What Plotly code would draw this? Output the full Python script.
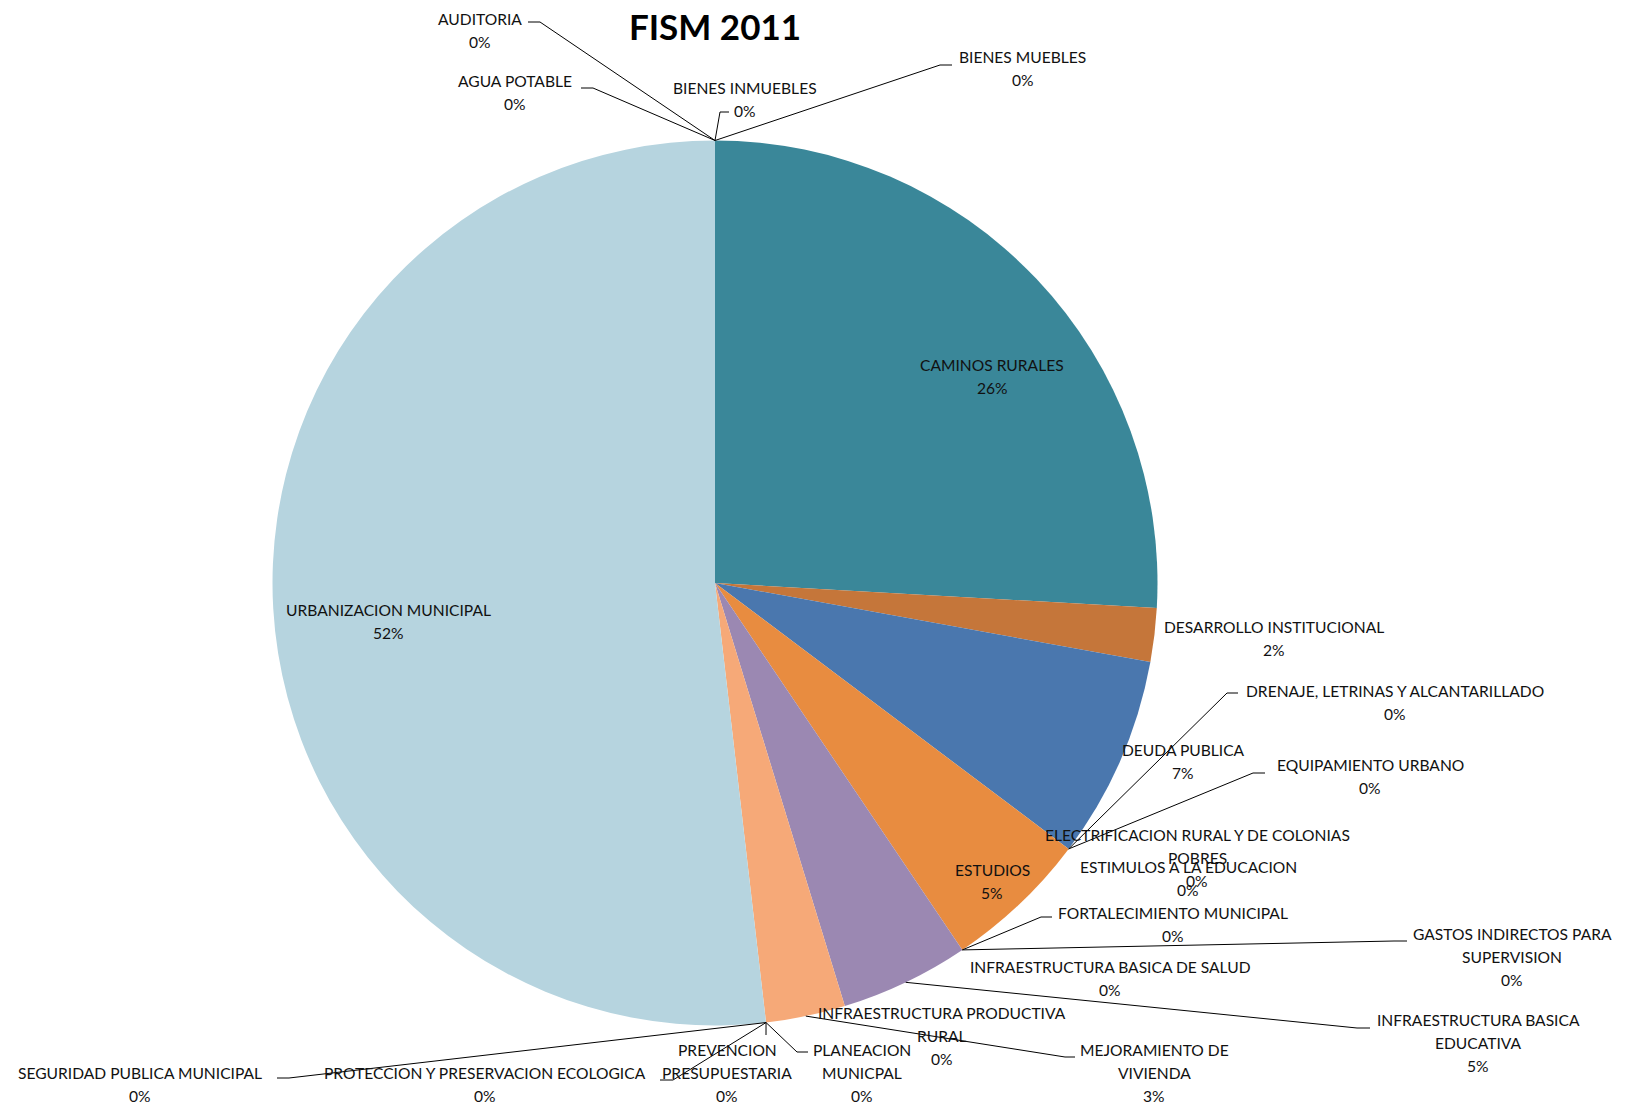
import math
import plotly.graph_objects as go

# --- Datos (FISM 2011, porcentaje del total) ---
categorias = [
    "AGUA POTABLE",
    "AUDITORIA",
    "BIENES INMUEBLES",
    "BIENES MUEBLES",
    "CAMINOS RURALES",
    "DESARROLLO INSTITUCIONAL",
    "DEUDA PUBLICA",
    "DRENAJE, LETRINAS Y ALCANTARILLADO",
    "ELECTRIFICACION RURAL Y DE COLONIAS POBRES",
    "EQUIPAMIENTO URBANO",
    "ESTIMULOS A LA EDUCACION",
    "ESTUDIOS",
    "FORTALECIMIENTO MUNICIPAL",
    "GASTOS INDIRECTOS PARA SUPERVISION",
    "INFRAESTRUCTURA BASICA DE SALUD",
    "INFRAESTRUCTURA BASICA EDUCATIVA",
    "INFRAESTRUCTURA PRODUCTIVA RURAL",
    "MEJORAMIENTO DE VIVIENDA",
    "PLANEACION MUNICPAL",
    "PREVENCION PRESUPUESTARIA",
    "PROTECCION Y PRESERVACION ECOLOGICA",
    "SEGURIDAD PUBLICA MUNICIPAL",
    "URBANIZACION MUNICIPAL",
]
montos = [0, 0, 0, 0, 25.9, 1.96, 7.4, 0, 0, 0, 0, 5.3, 0, 0, 0, 4.7, 0, 2.9, 0, 0, 0, 0, 51.84]

colores = {
    "CAMINOS RURALES": "#3A8799",
    "DESARROLLO INSTITUCIONAL": "#C5763A",
    "DEUDA PUBLICA": "#4A77AE",
    "ESTUDIOS": "#E88C40",
    "INFRAESTRUCTURA BASICA EDUCATIVA": "#9B88B2",
    "MEJORAMIENTO DE VIVIENDA": "#F6A978",
    "URBANIZACION MUNICIPAL": "#B6D4DF",
}

# --- Layout (pixeles de la pagina) ---
OFF = 8  # margen del <body> en la pagina
W, H = 1637 - OFF, 1107 - OFF
CX, CY, R = 715.0, 583.0, 442.5
LINEA = 23  # separacion entre renglones de etiqueta

# nombre -> (renglones, x centro, y del primer renglon)
etiquetas = {
    "AGUA POTABLE": (["AGUA POTABLE"], 515, 81),
    "AUDITORIA": (["AUDITORIA"], 480, 19),
    "BIENES INMUEBLES": (["BIENES INMUEBLES"], 745, 88),
    "BIENES MUEBLES": (["BIENES MUEBLES"], 1023, 57),
    "CAMINOS RURALES": (["CAMINOS RURALES"], 992, 365),
    "DESARROLLO INSTITUCIONAL": (["DESARROLLO INSTITUCIONAL"], 1274, 627),
    "DEUDA PUBLICA": (["DEUDA PUBLICA"], 1183, 750),
    "DRENAJE, LETRINAS Y ALCANTARILLADO": (["DRENAJE, LETRINAS Y ALCANTARILLADO"], 1395, 691),
    "ELECTRIFICACION RURAL Y DE COLONIAS POBRES": (["ELECTRIFICACION RURAL Y DE COLONIAS", "POBRES"], 1197, 835),
    "EQUIPAMIENTO URBANO": (["EQUIPAMIENTO URBANO"], 1370, 765),
    "ESTIMULOS A LA EDUCACION": (["ESTIMULOS A LA EDUCACION"], 1188, 867),
    "ESTUDIOS": (["ESTUDIOS"], 992, 870),
    "FORTALECIMIENTO MUNICIPAL": (["FORTALECIMIENTO MUNICIPAL"], 1173, 913),
    "GASTOS INDIRECTOS PARA SUPERVISION": (["GASTOS INDIRECTOS PARA", "SUPERVISION"], 1512, 934),
    "INFRAESTRUCTURA BASICA DE SALUD": (["INFRAESTRUCTURA BASICA DE SALUD"], 1110, 967),
    "INFRAESTRUCTURA BASICA EDUCATIVA": (["INFRAESTRUCTURA BASICA", "EDUCATIVA"], 1478, 1020),
    "INFRAESTRUCTURA PRODUCTIVA RURAL": (["INFRAESTRUCTURA PRODUCTIVA", "RURAL"], 942, 1013),
    "MEJORAMIENTO DE VIVIENDA": (["MEJORAMIENTO DE", "VIVIENDA"], 1154, 1050),
    "PLANEACION MUNICPAL": (["PLANEACION", "MUNICPAL"], 862, 1050),
    "PREVENCION PRESUPUESTARIA": (["PREVENCION", "PRESUPUESTARIA"], 727, 1050),
    "PROTECCION Y PRESERVACION ECOLOGICA": (["PROTECCION Y PRESERVACION ECOLOGICA"], 485, 1073),
    "SEGURIDAD PUBLICA MUNICIPAL": (["SEGURIDAD PUBLICA MUNICIPAL"], 140, 1073),
    "URBANIZACION MUNICIPAL": (["URBANIZACION MUNICIPAL"], 388, 610),
}

# lineas guia: nombre -> puntos despues del borde del pastel
guias = {
    "AUDITORIA": [(540, 22), (528, 22)],
    "AGUA POTABLE": [(593, 88), (581, 88)],
    "BIENES INMUEBLES": [(720, 112), (729, 112)],
    "BIENES MUEBLES": [(940, 65), (952, 65)],
    "DRENAJE, LETRINAS Y ALCANTARILLADO": [(1227, 693), (1238, 693)],
    "EQUIPAMIENTO URBANO": [(1253, 773), (1265, 773)],
    "FORTALECIMIENTO MUNICIPAL": [(1041, 917), (1052, 917)],
    "GASTOS INDIRECTOS PARA SUPERVISION": [(1394, 941), (1407, 941)],
    "INFRAESTRUCTURA BASICA EDUCATIVA": [(1357, 1028), (1370, 1028)],
    "MEJORAMIENTO DE VIVIENDA": [(1065, 1057), (1075, 1057)],
    "PLANEACION MUNICPAL": [(797, 1052), (808, 1052)],
    "PREVENCION PRESUPUESTARIA": [(766, 1035)],
    "PROTECCION Y PRESERVACION ECOLOGICA": [(673, 1080), (660, 1080)],
    "SEGURIDAD PUBLICA MUNICIPAL": [(289, 1078), (277, 1078)],
}


def px(x):
    return (x - OFF) / W


def py(y):
    return 1 - (y - OFF) / H


total = sum(montos)

fig = go.Figure(
    go.Pie(
        labels=categorias,
        values=montos,
        sort=False,
        direction="clockwise",
        rotation=0,
        textinfo="none",
        marker=dict(colors=[colores.get(c, "#999999") for c in categorias], line=dict(width=0)),
        domain=dict(x=[px(CX - R), px(CX + R)], y=[py(CY + R), py(CY - R)]),
        showlegend=False,
        hovertemplate="%{label}<br>%{percent}<extra></extra>",
    )
)

acum = 0
for cat, val in zip(categorias, montos):
    ang = 2 * math.pi * (acum + val / 2) / total
    acum += val
    pct = f"{round(val / total * 100)}%"
    renglones, x0, y0 = etiquetas[cat]
    for i, txt in enumerate(renglones + [pct]):
        fig.add_annotation(
            x=px(x0), y=py(y0 + i * LINEA), xref="paper", yref="paper",
            text=txt, showarrow=False, xanchor="center", yanchor="middle",
            font=dict(family="Lato", size=15.6, color="#111111"),
        )
    if cat in guias:
        ax = CX + R * math.sin(ang)
        ay = CY - R * math.cos(ang)
        path = f"M {px(ax)},{py(ay)}"
        for gx, gy in guias[cat]:
            path += f" L {px(gx)},{py(gy)}"
        fig.add_shape(type="path", path=path, xref="paper", yref="paper",
                      line=dict(color="black", width=1))

fig.update_layout(
    width=W,
    height=H,
    margin=dict(l=0, r=0, t=0, b=0),
    paper_bgcolor="white",
    title=dict(text="<b>FISM 2011</b>", x=px(715), y=py(28), xanchor="center", yanchor="middle",
               font=dict(family="Lato", size=35, color="black")),
)

fig.write_html("out.html")
